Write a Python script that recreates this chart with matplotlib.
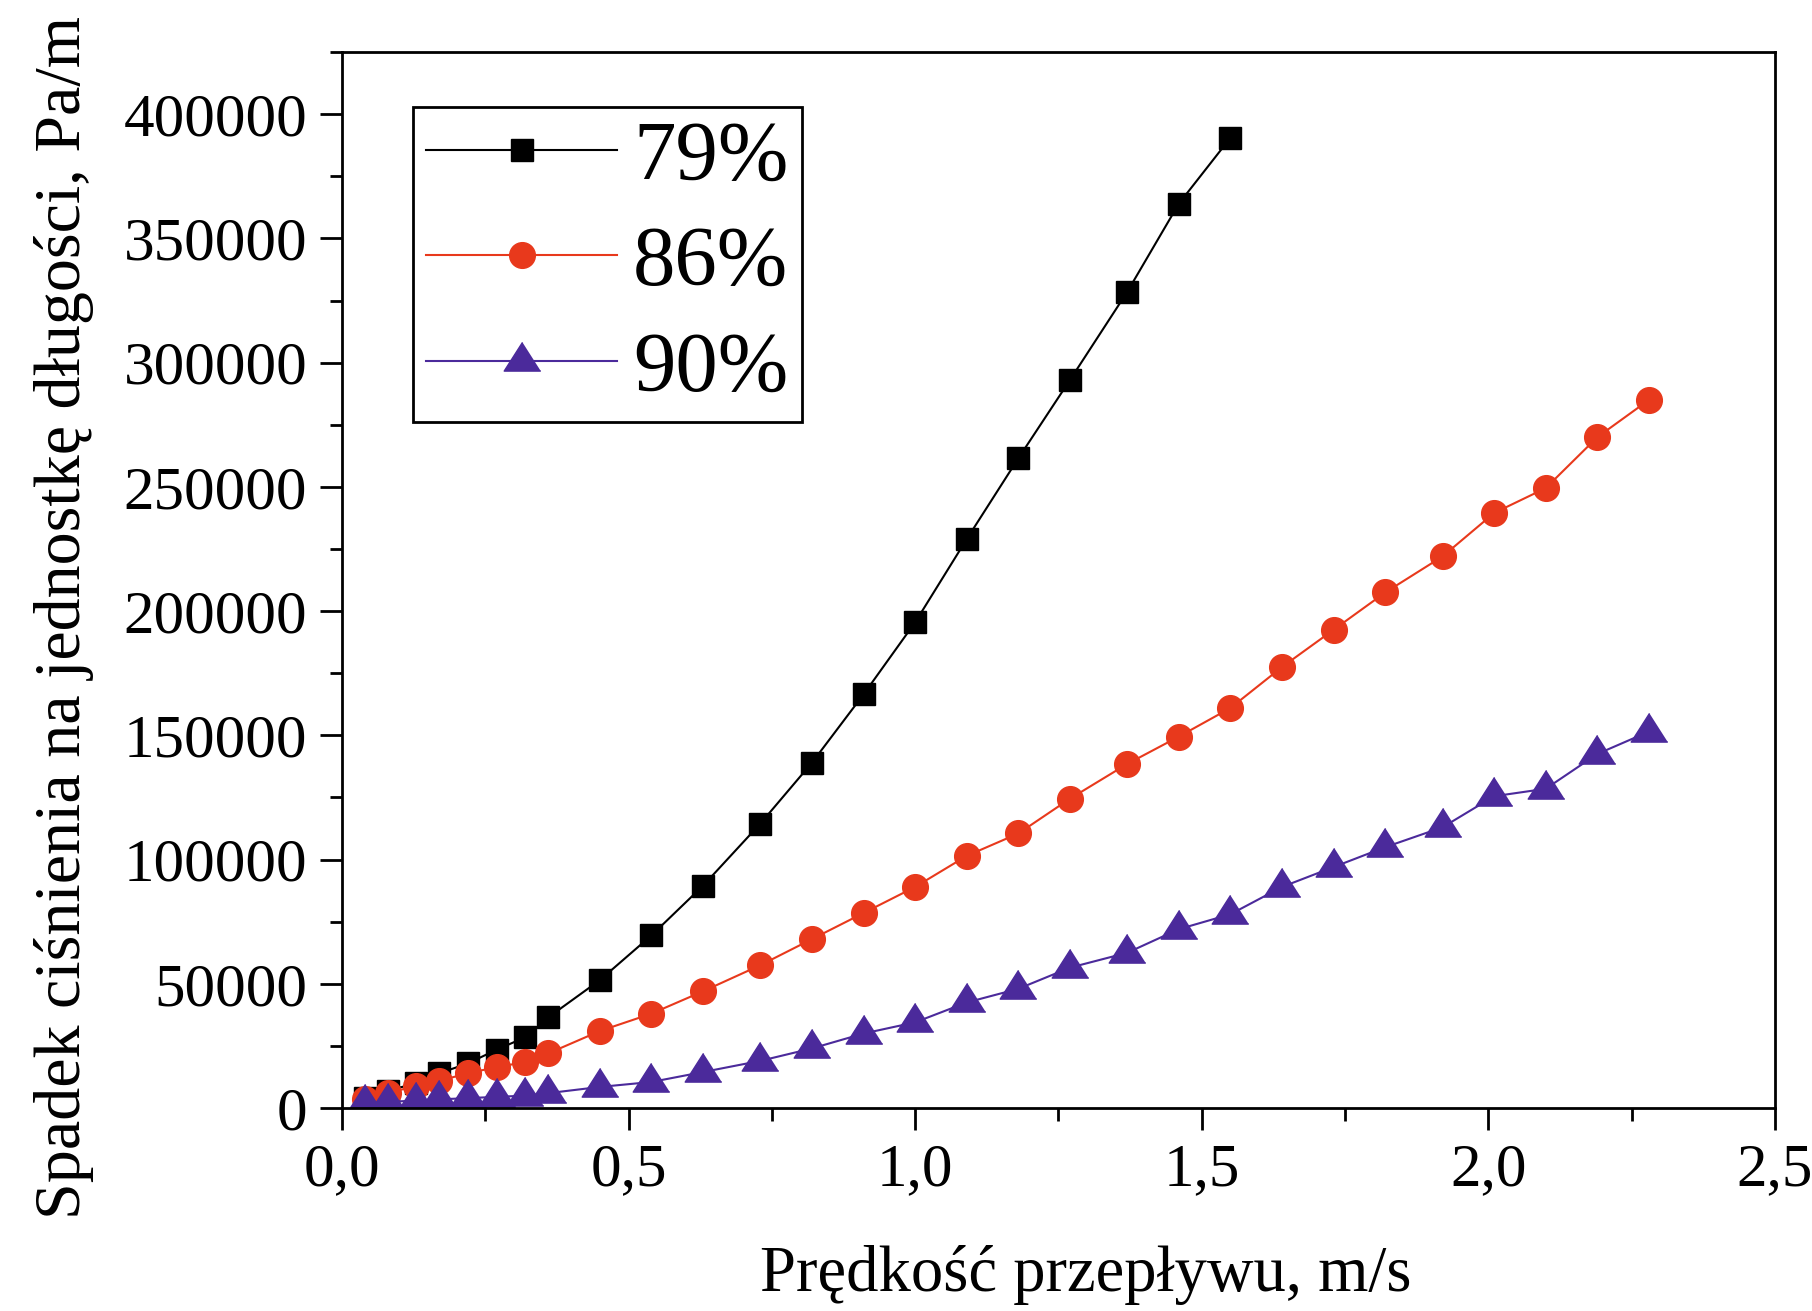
import matplotlib
matplotlib.use("Agg")
import matplotlib.pyplot as plt
from matplotlib.ticker import MultipleLocator, FuncFormatter

# velocity, m/s
x_all = [0.04, 0.08, 0.13, 0.17, 0.22, 0.27, 0.32, 0.36, 0.45, 0.54,
         0.63, 0.73, 0.82, 0.91, 1.00, 1.09, 1.18, 1.27, 1.37, 1.46,
         1.55, 1.64, 1.73, 1.82, 1.92, 2.01, 2.10, 2.19, 2.28]

# pressure drop per unit length, Pa/m
dp_79 = [4000, 7000, 10000, 14000, 18000, 23500, 28500, 36500, 51500, 69500,
         89500, 114500, 139000, 166500, 195500, 229000, 261500, 293000, 328500, 364000,
         390500]
dp_86 = [3500, 6000, 9000, 11000, 14000, 16500, 18500, 22000, 31000, 38000,
         47000, 57500, 68000, 78500, 89000, 101500, 110500, 124500, 138500, 149500,
         161000, 177500, 192500, 207500, 222000, 239500, 249500, 270000, 285000]
dp_90 = [2000, 2500, 3000, 3500, 4000, 4500, 5000, 6000, 8500, 10500,
         14500, 19000, 24000, 30000, 34500, 42500, 48000, 56500, 62500, 72000,
         78000, 89000, 97000, 105000, 113000, 125500, 128500, 142500, 151500]

labels = ["79%", "86%", "90%"]

plt.rcParams["font.family"] = ["Liberation Serif", "DejaVu Serif"]

fig = plt.figure(figsize=(18.12, 13.11), dpi=100)
ax = fig.add_axes([0.1887, 0.1548, 0.9796 - 0.1887, 0.9603 - 0.1548])

# Origin-style triangle, anchored at its centroid
tri = [(0, 19.3), (-18.5, -9.7), (18.5, -9.7)]

ax.plot(x_all[:len(dp_79)], dp_79, color="black", lw=1.5, marker="s", ms=16.5,
        mec="black", mfc="black", label=labels[0])
ax.plot(x_all, dp_86, color="#e8391c", lw=1.5, marker="o", ms=18.5,
        mec="#e8391c", mfc="#e8391c", label=labels[1])
ax.plot(x_all, dp_90, color="#4b2a9b", lw=1.5, marker=tri, ms=27.5,
        mec="#4b2a9b", mfc="#4b2a9b", label=labels[2])

ax.set_xlim(0, 2.5)
ax.set_ylim(0, 425000)
ax.xaxis.set_major_locator(MultipleLocator(0.5))
ax.xaxis.set_minor_locator(MultipleLocator(0.25))
ax.yaxis.set_major_locator(MultipleLocator(50000))
ax.yaxis.set_minor_locator(MultipleLocator(25000))
ax.xaxis.set_major_formatter(FuncFormatter(lambda v, p: f"{v:.1f}".replace(".", ",")))
ax.yaxis.set_major_formatter(FuncFormatter(lambda v, p: f"{v:.0f}"))

ax.tick_params(which="both", direction="out", top=False, right=False, width=2)
ax.tick_params(which="major", length=16, labelsize=44, pad=9)
ax.tick_params(which="minor", length=9)
for s in ax.spines.values():
    s.set_linewidth(2)

ax.set_xlabel("Prędkość przepływu, m/s", fontsize=46.5)
ax.set_ylabel("Spadek ciśnienia na jednostkę długości, Pa/m", fontsize=47.5)
ax.xaxis.set_label_coords(0.519, -0.158)
ax.yaxis.set_label_coords(-0.194, 0.465)
ax.xaxis.label.set_va("center")
ax.yaxis.label.set_va("center")

leg = ax.legend(loc="upper left", bbox_to_anchor=(0.0495, 0.948), borderaxespad=0,
                fontsize=61, frameon=True, fancybox=False, framealpha=1,
                edgecolor="black", handlelength=2.25, handletextpad=0.19,
                borderpad=0.16, labelspacing=0.33, numpoints=1)
leg.get_frame().set_linewidth(2)

fig.savefig("out.png", dpi=100)
